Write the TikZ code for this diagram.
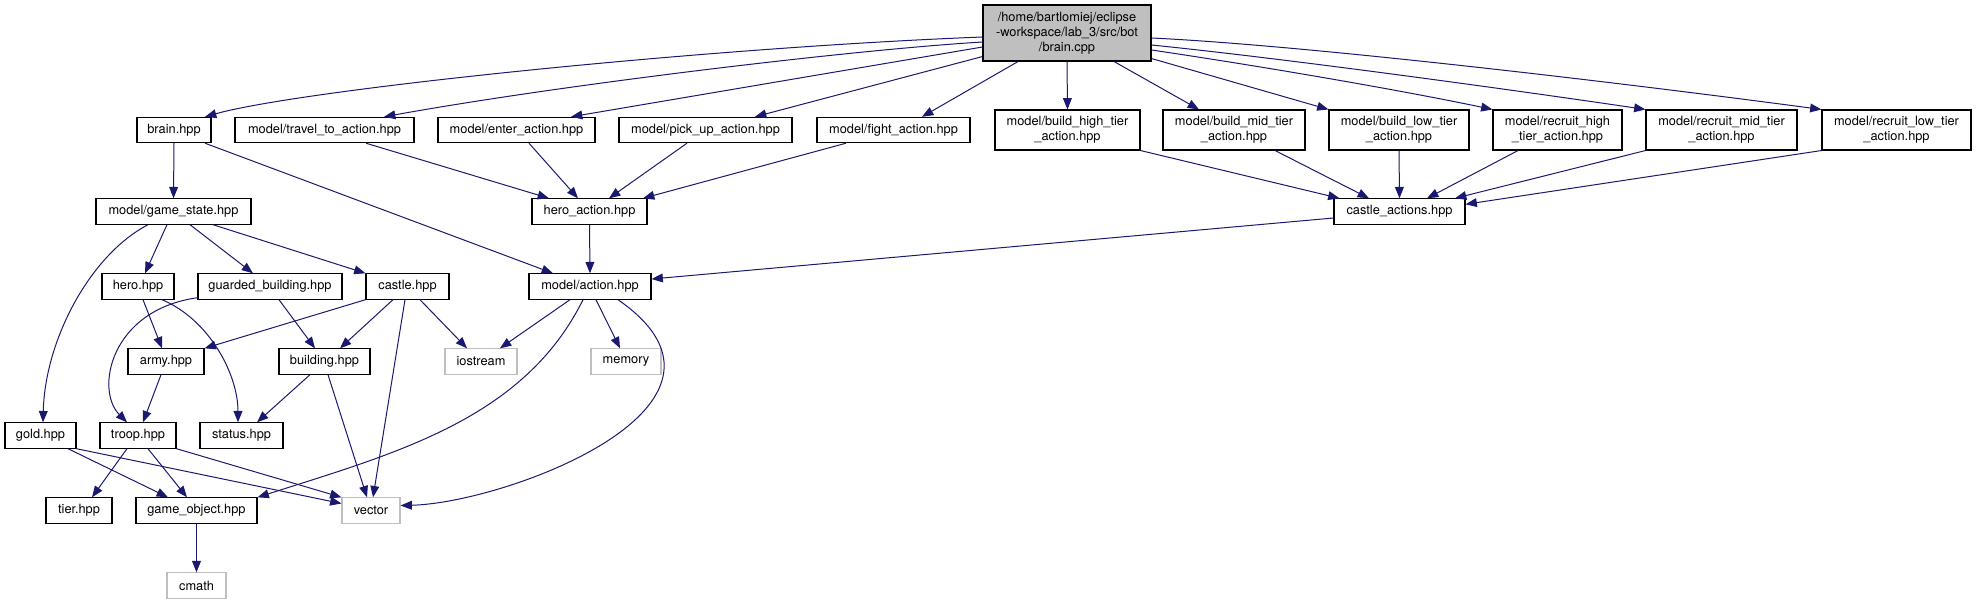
\documentclass[tikz,border=0pt]{standalone}
\usepackage{fontspec}
\setmainfont{TeX Gyre Heros}
\usetikzlibrary{calc, positioning}
\usetikzlibrary{arrows.meta}
\definecolor{edgeblue}{RGB}{25,25,112}
\definecolor{extgray}{RGB}{191,191,191}

\begin{document}
\begin{tikzpicture}[x=0.75pt,y=-0.75pt,
  hfile/.style={draw=black, line width=0.8pt, fill=white, inner sep=1pt,
    align=center, minimum height=19pt, font=\fontsize{9.6}{11.25}\selectfont},
  extfile/.style={hfile, draw=extgray},
  twoline/.style={minimum height=30pt},
  inc/.style={draw=edgeblue, line width=0.75pt,
    -{Triangle[length=8.5pt,width=6.6pt]}}]
\useasboundingbox (0,0) rectangle (1977,604);

% top file
\node[hfile, fill=extgray, minimum width=126pt, minimum height=42pt] (cpp) at (1067,33)
  {/home/bartlomiej/eclipse\\-workspace/lab\_3/src/bot\\/brain.cpp};

% direct includes
\node[hfile, minimum width=55.5pt] (brainh) at (174,130) {brain.hpp};
\node[hfile, minimum width=134.25pt] (travel) at (324.5,130) {model/travel\_to\_action.hpp};
\node[hfile, minimum width=117.75pt] (enter) at (516.5,130) {model/enter\_action.hpp};
\node[hfile, minimum width=129.75pt] (pickup) at (705.5,130) {model/pick\_up\_action.hpp};
\node[hfile, minimum width=114.75pt] (fight) at (893.5,130) {model/fight\_action.hpp};
\node[hfile, twoline, minimum width=108.75pt] (bhigh) at (1067.5,130) {model/build\_high\_tier\\\_action.hpp};
\node[hfile, twoline, minimum width=106.5pt] (bmid) at (1234,130) {model/build\_mid\_tier\\\_action.hpp};
\node[hfile, twoline, minimum width=105pt] (blow) at (1399,130) {model/build\_low\_tier\\\_action.hpp};
\node[hfile, twoline, minimum width=96.75pt] (rhigh) at (1557.5,130) {model/recruit\_high\\\_tier\_action.hpp};
\node[hfile, twoline, minimum width=113.25pt] (rmid) at (1721.5,130) {model/recruit\_mid\_tier\\\_action.hpp};
\node[hfile, twoline, minimum width=111.75pt] (rlow) at (1896.5,130) {model/recruit\_low\_tier\\\_action.hpp};

% second level
\node[hfile, minimum width=116.25pt] (gstate) at (173.5,211.5) {model/game\_state.hpp};
\node[hfile, minimum width=86.25pt] (heroact) at (589.5,211.5) {hero\_action.hpp};
\node[hfile, minimum width=98.25pt] (castact) at (1399.5,211.5) {castle\_actions.hpp};

\node[hfile, minimum width=54pt] (hero) at (138,286.5) {hero.hpp};
\node[hfile, minimum width=108pt] (guarded) at (270,286.5) {guarded\_building.hpp};
\node[hfile, minimum width=62.25pt] (castle) at (407.5,286.5) {castle.hpp};
\node[hfile, minimum width=91.5pt] (action) at (590,286.5) {model/action.hpp};

\node[hfile, minimum width=57pt] (army) at (166,361.5) {army.hpp};
\node[hfile, minimum width=68.25pt] (building) at (324.5,361.5) {building.hpp};
\node[extfile, minimum width=54pt] (iostream) at (481,361.5) {iostream};
\node[extfile, minimum width=52.5pt] (memory) at (626,361.5) {memory};

\node[hfile, minimum width=53.25pt] (gold) at (40.5,435.5) {gold.hpp};
\node[hfile, minimum width=57pt] (troop) at (138,435.5) {troop.hpp};
\node[hfile, minimum width=62.25pt] (status) at (241.5,435.5) {status.hpp};

\node[hfile, minimum width=49.5pt] (tier) at (79,510.5) {tier.hpp};
\node[hfile, minimum width=90.75pt] (gobj) at (196.5,510.5) {game\_object.hpp};
\node[extfile, minimum width=43.5pt] (vector) at (371,510.5) {vector};

\node[extfile, minimum width=44.25pt] (cmath) at (196.5,585.5) {cmath};

% edges from brain.cpp
\draw[inc] ($(cpp.west)+(0,4)$) .. controls (700,48) and (300,90) .. ($(brainh.north)+(31,0)$);
\draw[inc] ($(cpp.west)+(0,9)$) .. controls (850,50) and (560,85) .. ($(travel.north)+(59.5,0)$);
\draw[inc] ($(cpp.west)+(0,14)$) -- ($(enter.north)+(54.5,0)$);
\draw[inc] ($(cpp.south west)+(0,-5)$) -- ($(pickup.north)+(49.5,0)$);
\draw[inc] ($(cpp.south)+(-49,0)$) -- ($(fight.north)+(28.5,0)$);
\draw[inc] (cpp.south) -- (bhigh.north);
\draw[inc] ($(cpp.south)+(47,0)$) -- ($(bmid.north)+(-35,0)$);
\draw[inc] ($(cpp.south east)+(0,-3)$) -- (blow.north west);
\draw[inc] ($(cpp.east)+(0,17)$) .. controls (1260,66) and (1400,90) .. (rhigh.north west);
\draw[inc] ($(cpp.east)+(0,12)$) .. controls (1280,58) and (1500,88) .. (rmid.north west);
\draw[inc] ($(cpp.east)+(0,5)$) .. controls (1300,45) and (1600,80) .. (rlow.north west);

% hero actions
\draw[inc] ($(travel.south)+(41.5,0)$) -- ($(heroact.north)+(-40.5,0)$);
\draw[inc] ($(enter.south)+(12.5,0)$) -- ($(heroact.north)+(-11.5,0)$);
\draw[inc] ($(pickup.south)+(-18.5,0)$) -- ($(heroact.north)+(19.5,0)$);
\draw[inc] ($(fight.south)+(-47.5,0)$) -- ($(heroact.north)+(53.5,0)$);
\draw[inc] (heroact.south) -- (action.north);

% castle actions
\draw[inc] (bhigh.south east) -- ($(castact.north west)+(6,0)$);
\draw[inc] ($(bmid.south)+(41,0)$) -- ($(castact.north)+(-30.5,0)$);
\draw[inc] (blow.south) -- (castact.north);
\draw[inc] ($(rhigh.south)+(-39.5,0)$) -- ($(castact.north)+(27.5,0)$);
\draw[inc] (rmid.south west) -- ($(castact.north)+(55.5,0)$);
\draw[inc] (rlow.south west) -- ($(castact.north east)+(0,6)$);
\draw[inc] ($(castact.west)+(0,6.5)$) -- ($(action.east)+(0,-7.5)$);

% brain.hpp and game state
\draw[inc] (brainh.south) -- (gstate.north);
\draw[inc] ($(brainh.south)+(31,0)$) -- ($(action.north)+(-37,0)$);
\draw[inc] ($(gstate.south)+(-25.5,0)$) .. controls (90,255) and (45,340) .. ($(gold.north)+(2.5,0)$);
\draw[inc] ($(gstate.south)+(-6.5,0)$) -- ($(hero.north)+(7,0)$);
\draw[inc] ($(gstate.south)+(16.5,0)$) -- ($(guarded.north)+(-17,0)$);
\draw[inc] ($(gstate.south)+(39.5,0)$) -- (castle.north west);

\draw[inc] ($(hero.south)+(5,0)$) -- ($(army.north)+(-4,0)$);
\draw[inc] ($(hero.south)+(24,0)$) .. controls (210,320) and (238,375) .. ($(status.north)+(-3.5,0)$);
\draw[inc] ($(guarded.south west)+(0,-2)$) .. controls (110,310) and (95,390) .. ($(troop.north)+(-11,0)$);
\draw[inc] ($(guarded.south)+(9,0)$) -- ($(building.north)+(-9.5,0)$);

\draw[inc] (castle.south west) -- (army.north east);
\draw[inc] ($(castle.south)+(-14.5,0)$) -- ($(building.north)+(15.5,0)$);
\draw[inc] ($(castle.south)+(-2.5,0)$) -- ($(vector.north)+(2,0)$);
\draw[inc] ($(castle.south)+(12.5,0)$) -- ($(iostream.north)+(-14,0)$);

\draw[inc] ($(army.south)+(-5,0)$) -- ($(troop.north)+(5,0)$);
\draw[inc] ($(building.south)+(-14.5,0)$) -- ($(status.north)+(15.5,0)$);
\draw[inc] ($(building.south)+(3.5,0)$) -- ($(vector.north)+(-4,0)$);

% model/action.hpp
\draw[inc] ($(action.south)+(-20,0)$) -- ($(iostream.north)+(19,0)$);
\draw[inc] ($(action.south)+(6,0)$) -- ($(memory.north)+(-6,0)$);
\draw[inc] ($(action.south)+(-7,0)$) .. controls (524,419) and (396,453) .. (gobj.north east);
\draw[inc] ($(action.south)+(28,0)$) .. controls (770,405) and (506,503) .. ($(vector.east)+(0,-5)$);

% bottom
\draw[inc] ($(gold.south)+(27.5,0)$) -- ($(gobj.north)+(-28.5,0)$);
\draw[inc] (gold.south east) -- ($(vector.west)+(0,-7)$);
\draw[inc] ($(troop.south)+(-11,0)$) -- ($(tier.north)+(13,0)$);
\draw[inc] ($(troop.south)+(10,0)$) -- ($(gobj.north)+(-9.5,0)$);
\draw[inc] (troop.south east) -- (vector.north west);
\draw[inc] (gobj.south) -- (cmath.north);
\end{tikzpicture}
\end{document}
